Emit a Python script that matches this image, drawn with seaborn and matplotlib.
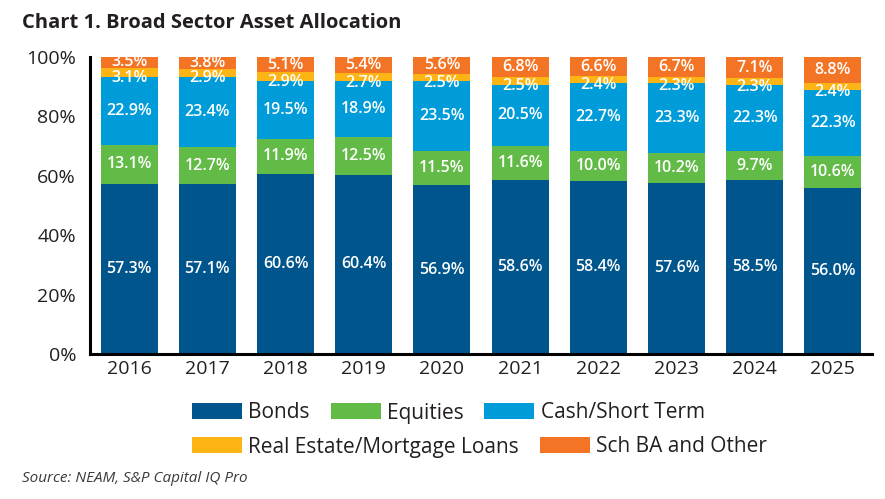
import numpy as np
import pandas as pd
import seaborn as sns
import matplotlib.pyplot as plt
from matplotlib.patches import Patch
from matplotlib.ticker import FixedLocator, PercentFormatter

# Chart data (percent of total)
years = ["2016", "2017", "2018", "2019", "2020", "2021", "2022", "2023", "2024", "2025"]
bonds = [57.3, 57.1, 60.6, 60.4, 56.9, 58.6, 58.4, 57.6, 58.5, 56.0]
equities = [13.1, 12.7, 11.9, 12.5, 11.5, 11.6, 10.0, 10.2, 9.7, 10.6]
cash = [22.9, 23.4, 19.5, 18.9, 23.5, 20.5, 22.7, 23.3, 22.3, 22.3]
real_estate = [3.1, 2.9, 2.9, 2.7, 2.5, 2.5, 2.4, 2.3, 2.3, 2.4]
sch_ba = [3.5, 3.8, 5.1, 5.4, 5.6, 6.8, 6.6, 6.7, 7.1, 8.8]

sectors = ["Bonds", "Equities", "Cash/Short Term", "Real Estate/Mortgage Loans", "Sch BA and Other"]
colors = ["#00558C", "#62BB46", "#009CDA", "#FDB515", "#F47425"]
series = [bonds, equities, cash, real_estate, sch_ba]

df = pd.DataFrame({s: v for s, v in zip(sectors, series)}, index=years)
long_df = df.reset_index(names="year").melt(id_vars="year", var_name="sector", value_name="share")

sns.set_theme(style="white")
plt.rcParams["font.family"] = ["Open Sans", "DejaVu Sans"]
text_color = "#231F20"

fig = plt.figure(figsize=(8.85, 4.99), dpi=100)
ax = fig.add_axes([90 / 885, 1 - 354 / 499, (872 - 90) / 885, (354 - 57) / 499])

# histplot stacks the first hue level on top, so feed the order reversed
sns.histplot(
    data=long_df, x="year", hue="sector", weights="share",
    hue_order=sectors[::-1], palette=colors[::-1],
    multiple="stack", discrete=True, shrink=0.73,
    linewidth=0, alpha=1, legend=False, ax=ax,
)

ax.set_xlim(-0.5, len(years) - 0.5)
ax.set_ylim(0, 100)
ax.set_xlabel("")
ax.set_ylabel("")
ax.set_xticks(range(len(years)))
ax.set_xticklabels(years)
ax.xaxis.set_minor_locator(FixedLocator(np.arange(0.5, len(years) + 0.5, 1)))
ax.set_yticks(np.arange(0, 101, 20))
ax.yaxis.set_major_formatter(PercentFormatter(decimals=0))

for side in ["top", "right"]:
    ax.spines[side].set_visible(False)
for side in ["left", "bottom"]:
    ax.spines[side].set_color("black")
    ax.spines[side].set_linewidth(2.2)

ax.tick_params(axis="y", which="major", direction="in", length=7, width=2.2,
               color="black", labelsize=14, labelcolor=text_color, pad=10)
ax.tick_params(axis="x", which="major", length=0, labelsize=14, labelcolor=text_color, pad=4)
ax.tick_params(axis="x", which="minor", direction="in", length=5, width=2, color="black")

# segment labels
cum = df.cumsum(axis=1)
for i, year in enumerate(years):
    for j, s in enumerate(sectors):
        val = df.loc[year, s]
        center = cum.loc[year, s] - val / 2
        dy = -4 if s == "Real Estate/Mortgage Loans" else 0
        ax.annotate(f"{val:.1f}%", (i, center), xytext=(0, dy), textcoords="offset points",
                    ha="center", va="center", color="white", fontsize=11.5, fontweight="semibold")

# legend in two rows
handles = [Patch(facecolor=c, edgecolor="none") for c in colors]
leg_kw = dict(frameon=False, fontsize=15, handlelength=2.4, handleheight=0.78,
              handletextpad=0.3, columnspacing=1.0, borderpad=0, borderaxespad=0,
              labelcolor=text_color)
leg1 = fig.legend(handles[:3], sectors[:3], ncol=3, loc="center left",
                  bbox_to_anchor=(192 / 885, 1 - 413 / 499), **leg_kw)
leg2 = fig.legend(handles[3:], sectors[3:], ncol=2, loc="center left",
                  bbox_to_anchor=(192 / 885, 1 - 447 / 499), **leg_kw)

fig.text(22 / 885, 1 - 23 / 499, "Chart 1. Broad Sector Asset Allocation",
         fontsize=14.5, fontweight="bold", color=text_color, va="center")
fig.text(22 / 885, 1 - 479 / 499, "Source: NEAM, S&P Capital IQ Pro",
         fontsize=11, style="italic", color="#3A3A3A", va="center")

fig.savefig("out.png", dpi=100)
